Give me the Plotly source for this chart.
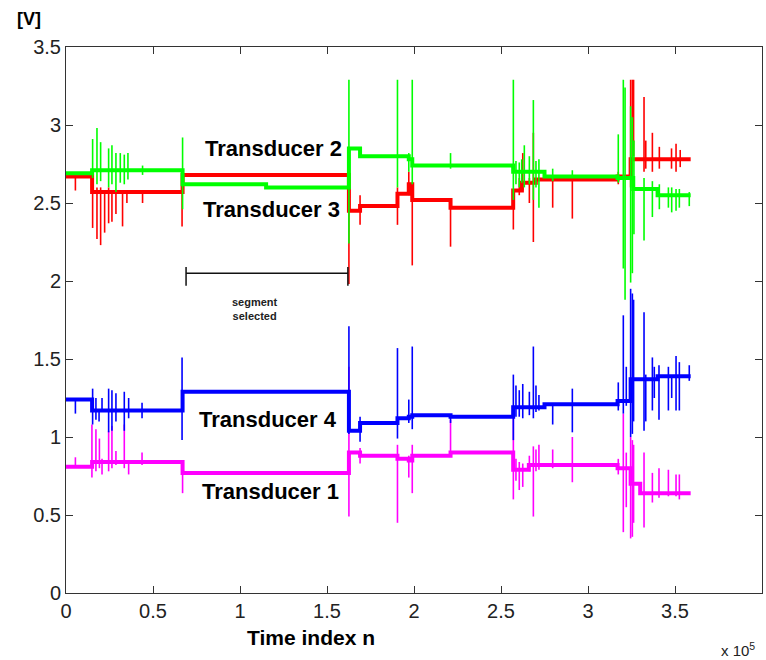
import plotly.graph_objects as go

# x in units of 1e5 samples, y in volts
# ---------- Transducer 2 (green) ----------
t2_seg_start = [0.0, 0.15, 0.67, 1.15, 1.626, 1.69, 1.905, 1.97, 1.99, 2.57, 2.75, 3.17, 3.26, 3.40]
t2_seg_end   = [0.15, 0.67, 1.15, 1.626, 1.69, 1.905, 1.97, 1.99, 2.57, 2.75, 3.17, 3.26, 3.40, 3.59]
t2_seg_level = [2.69, 2.71, 2.62, 2.60, 2.85, 2.80, 2.80, 2.78, 2.74, 2.70, 2.67, 2.66, 2.59, 2.55]
t2_spike_x  = [0.153, 0.178, 0.199, 0.245, 0.264, 0.287, 0.312, 0.335, 0.356, 0.44, 0.67,
               1.626, 1.905, 1.97, 1.99, 2.21,
               2.571, 2.586, 2.605, 2.619, 2.634, 2.663, 2.686, 2.701, 2.718, 2.797, 2.91,
               3.174, 3.203, 3.213, 3.245, 3.255, 3.264, 3.322, 3.37, 3.41, 3.462, 3.481, 3.506, 3.525, 3.582]
t2_spike_lo = [2.66, 2.62, 2.64, 2.60, 2.62, 2.57, 2.63, 2.62, 2.65, 2.68, 2.46,
               2.24, 2.60, 2.70, 2.62, 2.72,
               2.52, 2.62, 2.60, 2.63, 2.60, 2.62, 2.52, 2.60, 2.47, 2.64, 2.66,
               2.63, 2.08, 1.88, 1.99, 2.05, 2.30, 2.26, 2.41, 2.46, 2.47, 2.44, 2.45, 2.47, 2.48]
t2_spike_hi = [2.91, 2.98, 2.89, 2.85, 2.87, 2.82, 2.82, 2.81, 2.82, 2.74, 2.92,
               3.29, 3.29, 2.82, 3.29, 2.82,
               3.29, 2.77, 2.76, 2.78, 2.87, 2.80, 3.16, 2.77, 2.78, 2.72, 2.71,
               2.94, 3.29, 3.24, 3.12, 3.05, 2.90, 2.66, 2.64, 2.62, 2.60, 2.60, 2.59, 2.59, 2.57]

# ---------- Transducer 3 (red) ----------
t3_seg_start = [0.0, 0.15, 0.67, 1.626, 1.69, 1.905, 1.97, 1.99, 2.21, 2.57, 2.62, 2.70, 3.17, 3.245]
t3_seg_end   = [0.15, 0.67, 1.626, 1.69, 1.905, 1.97, 1.99, 2.21, 2.57, 2.62, 2.70, 3.17, 3.245, 3.59]
t3_seg_level = [2.67, 2.57, 2.68, 2.45, 2.48, 2.56, 2.62, 2.52, 2.47, 2.58, 2.63, 2.65, 2.67, 2.78]
t3_spike_x  = [0.054, 0.153, 0.178, 0.199, 0.222, 0.245, 0.264, 0.287, 0.325, 0.35, 0.44, 0.667,
               1.626, 1.69, 1.905, 1.97, 1.99, 2.21,
               2.571, 2.605, 2.625, 2.663, 2.686, 2.797, 2.91,
               3.174, 3.245, 3.255, 3.262, 3.322, 3.332, 3.37, 3.41, 3.48, 3.506, 3.53]
t3_spike_lo = [2.58, 2.34, 2.27, 2.23, 2.31, 2.37, 2.38, 2.43, 2.35, 2.50, 2.50, 2.35,
               1.98, 2.36, 2.36, 2.55, 2.10, 2.22,
               2.33, 2.55, 2.58, 2.50, 2.25, 2.47, 2.40,
               2.62, 2.60, 2.70, 2.80, 2.70, 2.72, 2.70, 2.72, 2.72, 2.70, 2.73]
t3_spike_hi = [2.67, 2.67, 2.60, 2.60, 2.58, 2.60, 2.58, 2.58, 2.58, 2.58, 2.58, 2.68,
               2.66, 2.55, 2.60, 2.70, 2.62, 2.52,
               2.50, 2.66, 2.82, 2.66, 2.95, 2.65, 2.65,
               2.70, 3.29, 3.29, 3.29, 3.18, 2.90, 2.95, 2.86, 2.85, 2.88, 2.84]

# ---------- Transducer 4 (blue) ----------
t4_seg_start = [0.0, 0.15, 0.67, 1.626, 1.69, 1.905, 1.97, 1.99, 2.21, 2.57, 2.75, 3.17, 3.245, 3.40]
t4_seg_end   = [0.15, 0.67, 1.626, 1.69, 1.905, 1.97, 1.99, 2.21, 2.57, 2.75, 3.17, 3.245, 3.40, 3.59]
t4_seg_level = [1.24, 1.17, 1.29, 1.04, 1.09, 1.12, 1.13, 1.14, 1.13, 1.19, 1.21, 1.23, 1.37, 1.39]
t4_spike_x  = [0.054, 0.153, 0.172, 0.19, 0.207, 0.245, 0.264, 0.287, 0.335, 0.36, 0.437, 0.667,
               1.626, 1.69, 1.905, 1.97, 1.99, 2.21,
               2.571, 2.586, 2.605, 2.625, 2.663, 2.686, 2.701, 2.718, 2.797, 2.91,
               3.174, 3.203, 3.22, 3.245, 3.255, 3.262, 3.322, 3.332, 3.37, 3.381, 3.408, 3.462, 3.481, 3.506, 3.525, 3.582]
t4_spike_lo = [1.15, 1.08, 1.11, 1.10, 1.17, 1.03, 1.04, 1.10, 1.04, 1.12, 1.12, 0.98,
               1.02, 0.97, 0.99, 1.09, 1.05, 1.09,
               0.98, 1.13, 1.13, 1.12, 1.14, 1.12, 1.16, 1.17, 1.08, 1.03,
               1.17, 1.15, 1.20, 1.00, 1.02, 1.10, 1.04, 1.10, 1.17, 1.25, 1.11, 1.17, 1.25, 1.17, 1.17, 1.36]
t4_spike_hi = [1.24, 1.31, 1.25, 1.17, 1.25, 1.31, 1.30, 1.28, 1.29, 1.25, 1.22, 1.51,
               1.71, 1.13, 1.57, 1.24, 1.58, 1.14,
               1.40, 1.33, 1.30, 1.34, 1.29, 1.58, 1.33, 1.27, 1.21, 1.31,
               1.35, 1.78, 1.45, 1.95, 1.92, 1.88, 1.80, 1.40, 1.51, 1.45, 1.46, 1.45, 1.38, 1.52, 1.48, 1.46]

# ---------- Transducer 1 (magenta) ----------
t1_seg_start = [0.0, 0.15, 0.67, 1.626, 1.69, 1.905, 1.97, 1.99, 2.21, 2.57, 2.66, 3.17, 3.245, 3.30]
t1_seg_end   = [0.15, 0.67, 1.626, 1.69, 1.905, 1.97, 1.99, 2.21, 2.57, 2.66, 3.17, 3.245, 3.30, 3.59]
t1_seg_level = [0.81, 0.84, 0.77, 0.90, 0.88, 0.86, 0.85, 0.88, 0.90, 0.79, 0.82, 0.80, 0.70, 0.64]
t1_spike_x  = [0.054, 0.149, 0.172, 0.192, 0.207, 0.245, 0.264, 0.287, 0.335, 0.36, 0.437, 0.67,
               1.626, 1.69, 1.905, 1.97, 1.99, 2.21,
               2.571, 2.586, 2.605, 2.625, 2.663, 2.686, 2.701, 2.718, 2.797, 2.91,
               3.174, 3.203, 3.22, 3.245, 3.255, 3.262, 3.322, 3.37, 3.408, 3.462, 3.506, 3.525]
t1_spike_lo = [0.81, 0.74, 0.78, 0.80, 0.76, 0.78, 0.80, 0.82, 0.80, 0.76, 0.82, 0.64,
               0.49, 0.83, 0.45, 0.74, 0.64, 0.88,
               0.60, 0.72, 0.66, 0.68, 0.78, 0.49, 0.78, 0.79, 0.80, 0.71,
               0.76, 0.39, 0.55, 0.35, 0.36, 0.45, 0.42, 0.58, 0.61, 0.62, 0.62, 0.60]
t1_spike_hi = [0.87, 1.08, 1.05, 0.99, 0.86, 1.04, 1.07, 0.91, 1.08, 0.85, 0.90, 0.84,
               1.45, 0.93, 0.95, 0.88, 0.95, 1.11,
               1.15, 0.86, 0.84, 0.83, 0.88, 0.94, 0.92, 0.95, 0.92, 1.00,
               0.86, 1.15, 0.90, 1.00, 0.98, 0.95, 0.90, 0.77, 0.80, 0.79, 0.76, 0.76]

# segment-selected marker (range of x, in 1e5 samples)
segment_x = [0.69, 1.62]
segment_y = 2.05
segment_cap = [1.97, 2.09]

x_ticks = [0, 0.5, 1, 1.5, 2, 2.5, 3, 3.5, 4]
x_tick_labels = ["0", "0.5", "1", "1.5", "2", "2.5", "3", "3.5", "4"]
y_ticks = [0, 0.5, 1, 1.5, 2, 2.5, 3, 3.5]
y_tick_labels = ["0", "0.5", "1", "1.5", "2", "2.5", "3", "3.5"]


def baseline_xy(s0, s1, lv):
    xs, ys = [], []
    for a, b, v in zip(s0, s1, lv):
        xs += [a, b]
        ys += [v, v]
    return xs, ys


def spikes_xy(sx, lo, hi):
    xs, ys = [], []
    for x, l, h in zip(sx, lo, hi):
        xs += [x, x, None]
        ys += [l, h, None]
    return xs, ys


series = [
    ("Transducer 3", "#ff0000", t3_seg_start, t3_seg_end, t3_seg_level, t3_spike_x, t3_spike_lo, t3_spike_hi),
    ("Transducer 2", "#00ff00", t2_seg_start, t2_seg_end, t2_seg_level, t2_spike_x, t2_spike_lo, t2_spike_hi),
    ("Transducer 1", "#ff00ff", t1_seg_start, t1_seg_end, t1_seg_level, t1_spike_x, t1_spike_lo, t1_spike_hi),
    ("Transducer 4", "#0000ff", t4_seg_start, t4_seg_end, t4_seg_level, t4_spike_x, t4_spike_lo, t4_spike_hi),
]

fig = go.Figure()
for name, col, s0, s1, lv, sx, lo, hi in series:
    bx, by = baseline_xy(s0, s1, lv)
    fig.add_trace(go.Scatter(x=bx, y=by, mode="lines", name=name,
                             line=dict(color=col, width=4), showlegend=False,
                             hoverinfo="skip"))
    px, py = spikes_xy(sx, lo, hi)
    fig.add_trace(go.Scatter(x=px, y=py, mode="lines", name=name,
                             line=dict(color=col, width=1.6), showlegend=False,
                             connectgaps=False, hoverinfo="skip"))

# segment selected bracket
x0, x1 = segment_x
fig.add_trace(go.Scatter(
    x=[x0, x0, None, x0, x1, None, x1, x1],
    y=[segment_cap[0], segment_cap[1], None, segment_y, segment_y, None, segment_cap[0], segment_cap[1]],
    mode="lines", line=dict(color="#111111", width=1.5), showlegend=False, hoverinfo="skip"))

label_font = dict(family="Liberation Sans, Arial, sans-serif", size=22, color="#000000")
annos = [
    dict(x=1.195, y=2.85, text="<b>Transducer 2</b>"),
    dict(x=1.18, y=2.46, text="<b>Transducer 3</b>"),
    dict(x=1.16, y=1.11, text="<b>Transducer 4</b>"),
    dict(x=1.175, y=0.65, text="<b>Transducer 1</b>"),
]
for a in annos:
    fig.add_annotation(x=a["x"], y=a["y"], text=a["text"], showarrow=False,
                       xref="x", yref="y", font=label_font, xanchor="center", yanchor="middle")

fig.add_annotation(x=(x0 + x1) / 2 - 0.07, y=1.82, text="<b>segment<br>selected</b>", showarrow=False,
                   xref="x", yref="y", font=dict(family="Liberation Sans, Arial, sans-serif", size=11, color="#222222"),
                   xanchor="center", yanchor="middle", align="center")

fig.add_annotation(x=-0.053, y=1.051, xref="paper", yref="paper", text="<b>[V]</b>", showarrow=False,
                   font=dict(family="Liberation Sans, Arial, sans-serif", size=18, color="#000000"),
                   xanchor="center", yanchor="middle")
fig.add_annotation(x=0.352, y=-0.082, xref="paper", yref="paper", text="<b>Time index n</b>", showarrow=False,
                   font=dict(family="Liberation Sans, Arial, sans-serif", size=21, color="#000000"),
                   xanchor="center", yanchor="middle")
fig.add_annotation(x=0.965, y=-0.103, xref="paper", yref="paper", text="x 10<sup>5</sup>", showarrow=False,
                   font=dict(family="Liberation Sans Narrow, Liberation Sans, Arial, sans-serif", size=15, color="#222222"),
                   xanchor="center", yanchor="middle")

tick_font = dict(family="Liberation Sans Narrow, Arial Narrow, Liberation Sans, sans-serif", size=20, color="#222222")
fig.update_xaxes(range=[0, 4], tickmode="array", tickvals=x_ticks, ticktext=x_tick_labels,
                 ticks="inside", ticklen=7, tickcolor="#333333", tickwidth=1,
                 showline=True, linecolor="#333333", linewidth=1, mirror="ticks",
                 showgrid=False, zeroline=False, tickfont=tick_font)
fig.update_yaxes(range=[0, 3.5], tickmode="array", tickvals=y_ticks, ticktext=y_tick_labels,
                 ticks="inside", ticklen=7, tickcolor="#333333", tickwidth=1,
                 showline=True, linecolor="#333333", linewidth=1, mirror="ticks",
                 showgrid=False, zeroline=False, tickfont=tick_font)
fig.update_layout(width=766, height=660, margin=dict(l=66, r=4, t=47, b=67),
                  plot_bgcolor="white", paper_bgcolor="white")

fig.write_html("out.html")
